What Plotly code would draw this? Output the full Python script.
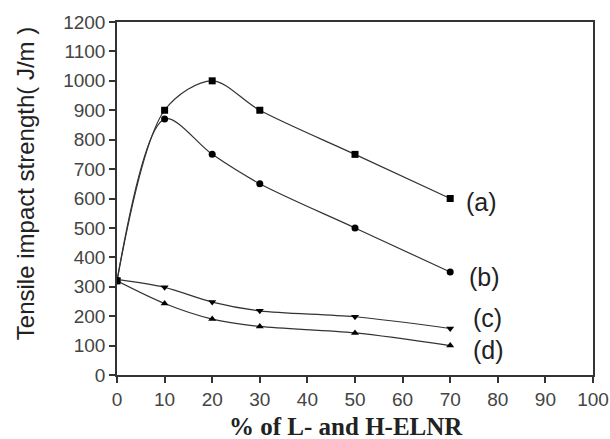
import plotly.graph_objects as go

x = [0, 10, 20, 30, 50, 70]
a_vals = [320, 900, 1000, 900, 750, 600]
b_vals = [320, 870, 750, 650, 500, 350]
c_vals = [325, 298, 248, 218, 198, 158]
d_vals = [320, 243, 190, 165, 143, 100]
labels = ["(a)", "(b)", "(c)", "(d)"]
label_x = [73.0, 73.5, 74.3, 74.3]
label_y = [588, 333, 194, 85]
symbols = ["square", "circle", "triangle-down", "triangle-up"]
x_title = "<b>% of L- and H-ELNR</b>"
y_title = "Tensile impact strength( J/m )"

fig = go.Figure()
for vals, sym in zip([a_vals, b_vals, c_vals, d_vals], symbols):
    fig.add_trace(go.Scatter(
        x=x, y=vals, mode="lines+markers",
        line=dict(color="#333333", width=1.2, shape="spline", smoothing=0.9),
        marker=dict(symbol=sym, size=7, color="black"),
        showlegend=False,
    ))

for lab, lx, ly in zip(labels, label_x, label_y):
    fig.add_annotation(x=lx, y=ly, text=lab, showarrow=False, xanchor="left",
                       font=dict(family="Liberation Sans, Arial", size=25, color="#222"))

fig.add_annotation(xref="paper", yref="paper", x=0.481, y=-0.145, text=x_title,
                   showarrow=False, xanchor="center", yanchor="middle",
                   font=dict(family="Liberation Serif, Times New Roman", size=25, color="#222"))
fig.add_annotation(xref="paper", yref="paper", x=-0.193, y=0.541, text=y_title,
                   showarrow=False, xanchor="center", yanchor="middle", textangle=-90,
                   font=dict(family="Liberation Sans, Arial", size=24, color="#222"))

fig.update_layout(
    width=610, height=439,
    margin=dict(l=117, r=17, t=22, b=64),
    plot_bgcolor="white", paper_bgcolor="white",
    font=dict(family="Liberation Sans, Arial", color="#333"),
)
fig.update_xaxes(
    range=[0, 100], tickmode="linear", tick0=0, dtick=10,
    ticks="outside", ticklen=6, tickwidth=1.5, tickcolor="#333",
    showline=True, linecolor="#333", linewidth=1.5, mirror=True,
    showgrid=False, zeroline=False, automargin=False,
    tickfont=dict(size=19, color="#444"),
)
fig.update_yaxes(
    range=[0, 1200], tickmode="linear", tick0=0, dtick=100,
    ticks="outside", ticklen=6, tickwidth=1.5, tickcolor="#333",
    showline=True, linecolor="#333", linewidth=1.5, mirror=True,
    showgrid=False, zeroline=False, automargin=False,
    tickfont=dict(size=19, color="#444"),
)

fig.write_html("out.html")
